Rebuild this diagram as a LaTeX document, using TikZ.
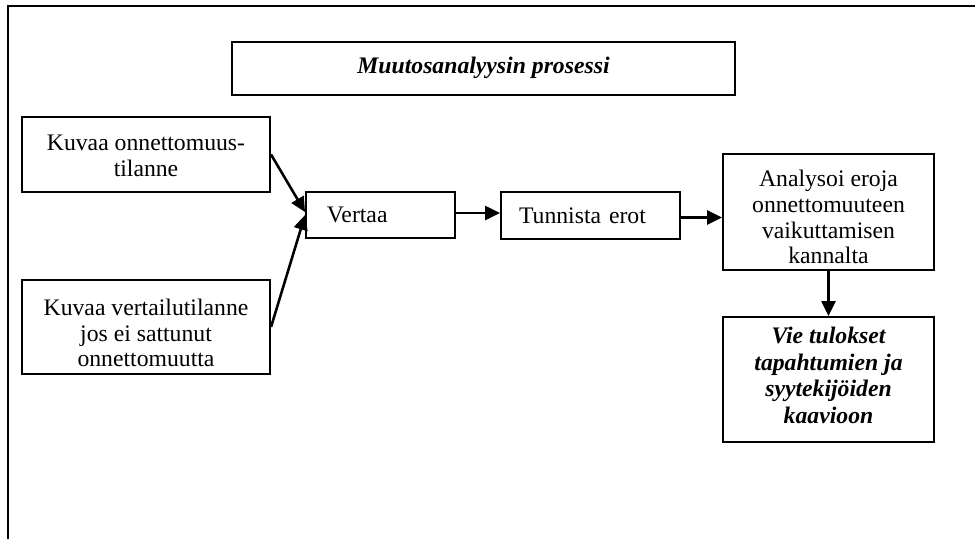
\documentclass[tikz,border=0pt]{standalone}
\usepackage{fontspec}
\setmainfont{Liberation Serif}
\usetikzlibrary{arrows.meta}
\begin{document}
\begin{tikzpicture}[x=0.5063pt, y=-0.5063pt,
  box/.style={draw, line width=1pt, inner sep=0pt},
  txt/.style={align=center, inner sep=0pt,
    font=\fontsize{12pt}{13.05pt}\selectfont},
  boldtxt/.style={txt, font=\fontsize{12pt}{13.5pt}\selectfont\bfseries\itshape},
  leftbox/.style={draw, line width=1pt, align=left, inner ysep=0pt,
    font=\fontsize{12pt}{13.05pt}\selectfont},
  flow/.style={line width=1.3pt, -{Triangle[length=7.5pt,width=7pt]}},
  frame/.style={line width=1.1pt}
]
  \useasboundingbox (0,0) rectangle (975,539);
  % open outer frame
  \draw[frame] (8,539) -- (8,6) -- (975,6);

  % title
  \node[box, minimum width=254.7pt, minimum height=26.8pt]
        (title) at (483.5,68.5) {};
  \node[boldtxt] (title-t) at (483.5,67.5) {Muutosanalyysin prosessi};

  % the two descriptions
  \node[box, minimum width=125.6pt, minimum height=37.8pt]
        (k1) at (146,154.5) {};
  \node[txt] (k1-t) at (146,156) {Kuvaa onnettomuus-\\tilanne};
  \node[box, minimum width=125.6pt, minimum height=47.6pt]
        (k2) at (146,327) {};
  \node[txt] (k2-t) at (146,333) {Kuvaa vertailutilanne\\jos ei sattunut\\onnettomuutta};

  % comparison steps
  \node[leftbox, inner xsep=10.6pt, text width=54.2pt, minimum height=23.3pt]
        (vertaa) at (380.5,215) {Vertaa};
  \node[leftbox, inner xsep=9.1pt, text width=72.4pt, minimum height=23.8pt]
        (tunnista) at (590.5,215.5) {Tunnista erot};

  % analysis and result
  \node[box, minimum width=106.8pt, minimum height=58.7pt]
        (analysoi) at (828.5,212) {};
  \node[txt] (analysoi-t) at (828.5,217) {Analysoi eroja\\onnettomuuteen\\vaikuttamisen\\kannalta};
  \node[box, minimum width=106.8pt, minimum height=63.3pt]
        (vie) at (828.5,379.5) {};
  \node[boldtxt] (vie-t) at (828.5,375.5) {Vie tulokset\\tapahtumien ja\\syytekijöiden\\kaavioon};

  % connectors
  \draw[flow] (k1.east) -- ([yshift=1.5pt]vertaa.west);
  \draw[flow] (k2.east) -- (vertaa.west);
  \draw[flow] ([yshift=1pt]vertaa.east) -- ([yshift=1pt]vertaa.east -| tunnista.west);
  \draw[flow] ([yshift=-1pt]tunnista.east) -- ([yshift=-1pt]tunnista.east -| analysoi.west);
  \draw[flow] (analysoi.south) -- (vie.north);
\end{tikzpicture}
\end{document}
